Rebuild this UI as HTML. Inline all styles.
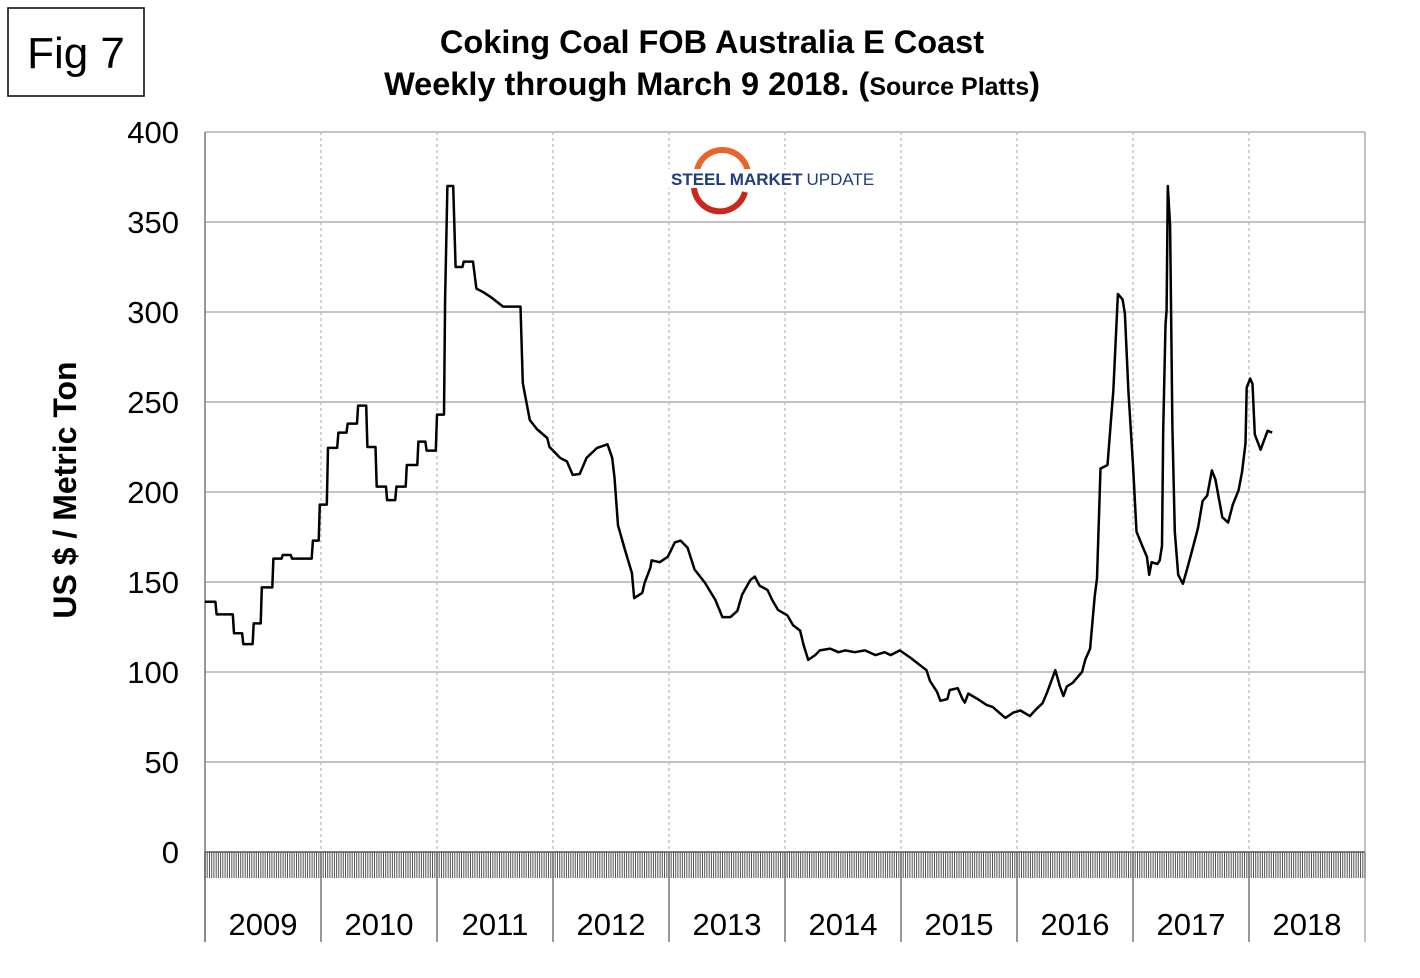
<!DOCTYPE html>
<html><head><meta charset="utf-8"><style>
body{margin:0;background:#fff;width:1420px;height:973px;overflow:hidden;font-family:"Liberation Sans",Arial,sans-serif}
</style></head><body>
<svg width="1420" height="973" viewBox="0 0 1420 973" xmlns="http://www.w3.org/2000/svg">
<rect x="8" y="8" width="136" height="88" fill="#fff" stroke="#000" stroke-width="1.5"/>
<text x="76" y="68" font-size="44" text-anchor="middle" font-family="Liberation Sans">Fig 7</text>
<text x="712" y="53" font-size="32.5" font-weight="bold" text-anchor="middle" font-family="Liberation Sans">Coking Coal FOB Australia E Coast</text>
<text x="712" y="95" font-size="32.5" font-weight="bold" text-anchor="middle" font-family="Liberation Sans">Weekly through March 9 2018. <tspan>(</tspan><tspan font-size="25">Source Platts</tspan><tspan>)</tspan></text>
<text transform="translate(76,490) rotate(-90)" font-size="32" font-weight="bold" text-anchor="middle" font-family="Liberation Sans">US $ / Metric Ton</text>
<g id="grid"></g>
<g id="ticks"></g>
<g id="labels"></g>
<g>
<path d="M 697 170 A 26 26 0 0 1 748 172" fill="none" stroke="#e8642a" stroke-width="6"/>
<path d="M 694 188 A 26 26 0 0 0 745 192" fill="none" stroke="#c8281e" stroke-width="6"/>
<rect x="668" y="169" width="212" height="19" fill="#fff"/>
<text x="671" y="185" font-size="17" font-family="Liberation Sans" fill="#1f3d7a"><tspan font-weight="bold">STEEL</tspan><tspan font-weight="bold" dx="4">MARKET</tspan><tspan dx="4">UPDATE</tspan></text>
</g>
<polyline id="series" fill="none" stroke="#000" stroke-width="2.5" stroke-linejoin="round"/>
</svg>
<script>
const yTicks=[0,50,100,150,200,250,300,350,400];
const yearLabels=["2009","2010","2011","2012","2013","2014","2015","2016","2017","2018"];
const dates=[2009.00,2009.09,2009.10,2009.24,2009.25,2009.32,2009.33,2009.41,2009.42,2009.48,2009.49,2009.58,2009.59,2009.66,2009.67,2009.74,2009.75,2009.92,2009.93,2009.98,2009.99,2010.05,2010.06,2010.14,2010.15,2010.22,2010.23,2010.31,2010.32,2010.39,2010.40,2010.47,2010.48,2010.56,2010.57,2010.64,2010.65,2010.73,2010.74,2010.83,2010.84,2010.90,2010.91,2010.99,2011.00,2011.06,2011.07,2011.09,2011.14,2011.16,2011.22,2011.23,2011.31,2011.34,2011.40,2011.47,2011.57,2011.72,2011.74,2011.80,2011.86,2011.95,2011.97,2012.06,2012.12,2012.17,2012.23,2012.29,2012.38,2012.47,2012.51,2012.53,2012.56,2012.62,2012.68,2012.70,2012.77,2012.79,2012.84,2012.85,2012.92,2012.99,2013.05,2013.10,2013.16,2013.22,2013.31,2013.40,2013.46,2013.53,2013.59,2013.63,2013.70,2013.74,2013.78,2013.85,2013.89,2013.94,2014.02,2014.07,2014.13,2014.16,2014.20,2014.26,2014.30,2014.39,2014.46,2014.52,2014.60,2014.69,2014.78,2014.86,2014.91,2014.99,2015.08,2015.22,2015.25,2015.31,2015.34,2015.40,2015.42,2015.49,2015.53,2015.55,2015.58,2015.66,2015.74,2015.79,2015.90,2015.97,2016.03,2016.11,2016.17,2016.22,2016.26,2016.33,2016.37,2016.40,2016.43,2016.48,2016.56,2016.59,2016.63,2016.67,2016.69,2016.72,2016.78,2016.82,2016.83,2016.87,2016.91,2016.93,2016.96,2017.00,2017.03,2017.08,2017.12,2017.14,2017.16,2017.21,2017.23,2017.25,2017.26,2017.28,2017.29,2017.30,2017.32,2017.34,2017.36,2017.39,2017.43,2017.47,2017.52,2017.56,2017.60,2017.64,2017.68,2017.71,2017.77,2017.82,2017.86,2017.91,2017.94,2017.97,2017.98,2018.01,2018.03,2018.05,2018.10,2018.16,2018.20];
const prices=[139,139,132,132,121.5,121.5,115.5,115.5,127,127,147,147,163,163,165,165,163,163,173,173,193,193,224.5,224.5,233,233,238,238,248,248,225,225,203,203,195.5,195.5,203,203,215,215,228,228,223,223,243,243,307,370,370,325,325,328,328,313,311,308,303,303,260.5,240,235,230,225,219,217,209.5,210,219,224.5,226.5,219,208,181.5,168,155,141,144,149.5,158,162,161,164,172,173,169,157,149.5,140,130.5,130.5,134,143,151,153,148,145.5,140,134.5,131.5,126,123,115,106.7,109.4,112,113,111,112,111,112,109.4,111,109.4,112,108,101,95,89,84,85,90,91,85,83,88,85,81.6,80.6,74.5,77.5,78.6,75.5,79.6,82.6,88.8,101,92,86.7,92,94,100,107,113,142,152,213,215,248,256,310,307,299,256,215,178,170,164,154,161,160,162,170,234,293,301,370,348,236,178,154,149,158,170,180,195,198,212,207,186,183,193,201,211,227,258,263,260,232,223.5,234,233];

const X0=205,X1=1365,Y0=852,YT=132,T0=2009,T1=2019;
const xs=t=>X0+(t-T0)/(T1-T0)*(X1-X0);
const ys=v=>Y0-(v/400)*(Y0-YT);
const NS="http://www.w3.org/2000/svg";
function mk(tag,attrs,parent){const e=document.createElementNS(NS,tag);for(const k in attrs)e.setAttribute(k,attrs[k]);parent.appendChild(e);return e;}
const grid=document.getElementById('grid'),ticks=document.getElementById('ticks'),labels=document.getElementById('labels');
yTicks.forEach(v=>{
  const l=mk('line',{x1:X0,x2:X1,y1:ys(v),y2:ys(v),stroke:v===0?'#555':'#b0b0b0','stroke-width':1.5},grid);
  
  
  const t=mk('text',{x:179,y:ys(v)+11,'font-size':31,'text-anchor':'end','font-family':'Liberation Sans'},labels);
  t.textContent=v;
  
  
});
yearLabels.forEach((y,i)=>{
  const t0=T0+i;
  if(i>0){const g=mk('line',{x1:xs(t0),x2:xs(t0),y1:YT,y2:Y0,stroke:'#b8b8b8','stroke-width':1.2,'stroke-dasharray':'3,3'},grid);
  
  }
  const b=mk('line',{x1:xs(t0),x2:xs(t0),y1:Y0,y2:942,stroke:'#777','stroke-width':1.5},ticks);
  
  
  const t=mk('text',{x:xs(t0+0.5),y:935,'font-size':31,'text-anchor':'middle','font-family':'Liberation Sans'},labels);
  t.textContent=y;
  
  
});
const r=mk('line',{x1:X1,x2:X1,y1:YT,y2:942,stroke:'#999','stroke-width':1.2},grid);


const ax=mk('line',{x1:X0,x2:X0,y1:YT,y2:942,stroke:'#777','stroke-width':1.5},grid);


let d='';
for(let w=0;w<=520;w++){const x=X0+w*(X1-X0)/520;d+=`M${x.toFixed(1)} ${Y0}V878`;}
const wt=mk('path',{d:d,stroke:'#555','stroke-width':1},ticks);


document.getElementById('series').setAttribute('points',dates.map((t,i)=>xs(t).toFixed(1)+','+ys(prices[i]).toFixed(1)).join(' '));
</script>
</body></html>
